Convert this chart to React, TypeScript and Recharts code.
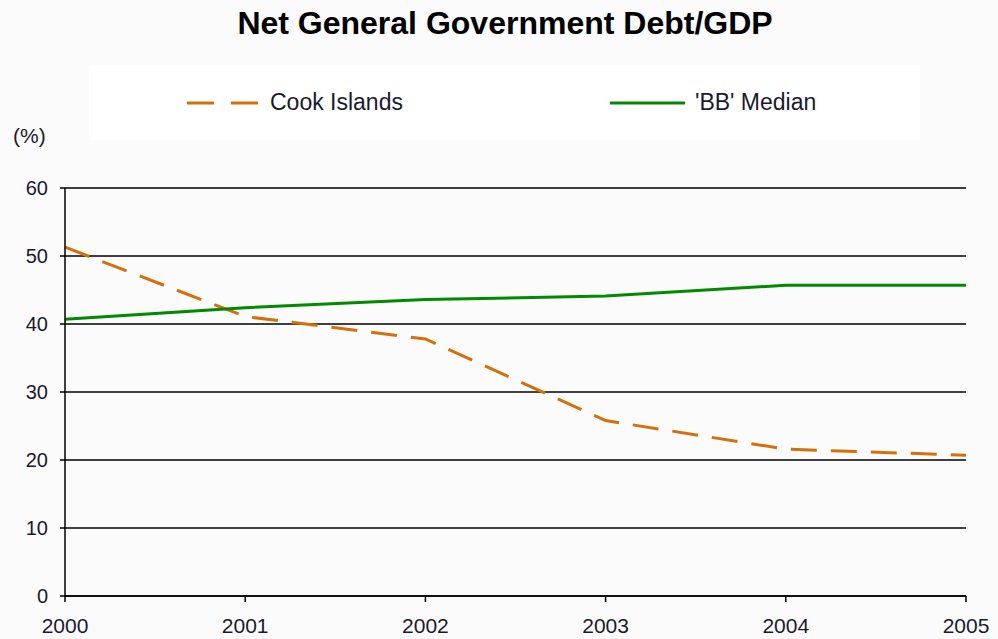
import { LineChart, Line, XAxis, YAxis, CartesianGrid } from 'recharts';

const years = ['2000', '2001', '2002', '2003', '2004', '2005'];
const cookIslands = [51.3, 41.1, 37.8, 25.8, 21.6, 20.7];
const bbMedian = [40.7, 42.4, 43.6, 44.1, 45.7, 45.7];
const yTicks = [0, 10, 20, 30, 40, 50, 60];

const chartData = years.map((year, i) => ({
  year,
  cook: cookIslands[i],
  bb: bbMedian[i],
}));

const ORANGE = '#d4700a';
const GREEN = '#008a00';
const FONT = 'Arial, "Liberation Sans", sans-serif';

// Legend drawn as a white box with the two series keys
const LegendBox = () => (
  <div
    style={{
      position: 'absolute',
      left: 89,
      top: 65,
      width: 831,
      height: 75,
      background: '#ffffff',
      fontFamily: FONT,
      fontSize: 23,
      color: '#1a1a2e',
    }}
  >
    <svg width={831} height={75} style={{ position: 'absolute', left: 0, top: 0 }}>
      <line x1={98} x2={170} y1={38} y2={38} stroke={ORANGE} strokeWidth={3} strokeDasharray="27 17" />
      <line x1={521} x2={596} y1={38} y2={38} stroke={GREEN} strokeWidth={3} />
    </svg>
    <span style={{ position: 'absolute', left: 181, top: 24 }}>Cook Islands</span>
    <span style={{ position: 'absolute', left: 606, top: 24 }}>'BB' Median</span>
  </div>
);

const App = () => {
  return (
    <div
      style={{
        position: 'absolute',
        left: 0,
        top: 0,
        width: 998,
        height: 639,
        background: '#fbfbfb',
        fontFamily: FONT,
      }}
    >
      <div
        style={{
          position: 'absolute',
          left: 0,
          width: 998,
          top: 5,
          textAlign: 'center',
          fontSize: 32,
          fontWeight: 'bold',
          color: '#000',
          paddingLeft: 12,
          boxSizing: 'border-box',
        }}
      >
        Net General Government Debt/GDP
      </div>
      <LegendBox />
      <div style={{ position: 'absolute', left: 13, top: 124, fontSize: 21, color: '#1a1a2e' }}>(%)</div>
      <LineChart
        width={998}
        height={639}
        data={chartData}
        margin={{ top: 188, right: 32, bottom: 0, left: 0 }}
        style={{ position: 'absolute', left: 0, top: 0 }}
      >
        <CartesianGrid vertical={false} stroke="#000" strokeWidth={1.5} />
        <XAxis
          dataKey="year"
          height={43}
          stroke="#000"
          strokeWidth={1.5}
          tickSize={6}
          tickMargin={16}
          interval={0}
          tick={{ fill: '#1a1a2e', fontSize: 21, fontFamily: FONT }}
        />
        <YAxis
          width={65}
          domain={[0, 60]}
          ticks={yTicks}
          stroke="#000"
          strokeWidth={1.5}
          tickSize={5}
          tickMargin={12}
          tick={{ fill: '#1a1a2e', fontSize: 20, fontFamily: FONT }}
        />
        <Line
          type="linear"
          dataKey="cook"
          name="Cook Islands"
          stroke={ORANGE}
          strokeWidth={3}
          strokeDasharray="26 14"
          dot={false}
          isAnimationActive={false}
        />
        <Line
          type="linear"
          dataKey="bb"
          name="'BB' Median"
          stroke={GREEN}
          strokeWidth={3}
          dot={false}
          isAnimationActive={false}
        />
      </LineChart>
    </div>
  );
};

export default App;
